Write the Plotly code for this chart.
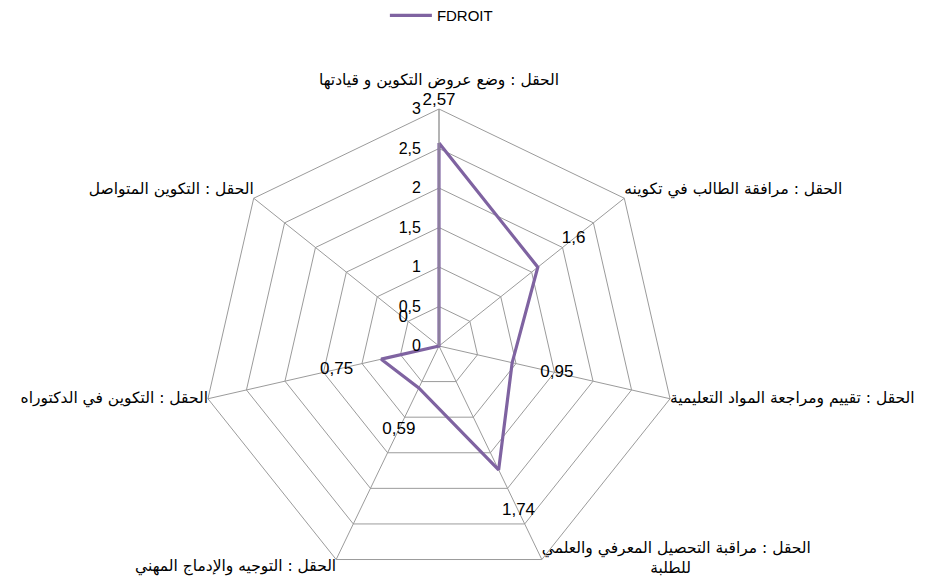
import plotly.graph_objects as go

categories = [
    "الحقل : وضع عروض التكوين و قيادتها",
    "الحقل : مرافقة الطالب في تكوينه",
    "الحقل : تقييم ومراجعة المواد التعليمية",
    "الحقل : مراقبة التحصيل المعرفي والعلمي<br>" + "\u00a0" * 22 + "للطلبة",
    "الحقل : التوجيه والإدماج المهني",
    "الحقل : التكوين في الدكتوراه",
    "الحقل : التكوين المتواصل",
]
values = [2.57, 1.6, 0.95, 1.74, 0.59, 0.75, 0]
series_name = "FDROIT"
radial_ticks = [0, 0.5, 1, 1.5, 2, 2.5, 3]
radial_max = 3

W, H = 928, 587
cx, cy, R = 431, 338, 237
label_offset = 0.58

purple = "#7F63A1"
grid = "#9B9B9B"

cat_positions = ["top center", "top right", "middle right", "middle right",
                 "bottom left", "middle left", "top left"]
cat_text = [categories[0] + "<br> "] + categories[1:]

# data-label placement: pushed outward along each spoke, clamped to the frame
lab_r = [min(v + label_offset, radial_max) for v in values]
lab_pos = ["middle center" if v + label_offset <= radial_max else "top center" for v in values]

fig = go.Figure()
fig.add_trace(go.Scatterpolar(
    r=values + [values[0]],
    theta=categories + [categories[0]],
    mode="lines",
    line=dict(color=purple, width=3.2),
    name=series_name,
))
fig.add_trace(go.Scatterpolar(
    r=lab_r,
    theta=categories,
    mode="text",
    text=[f"{v:g}".replace(".", ",") for v in values],
    textposition=lab_pos,
    textfont=dict(family="Liberation Sans, Arial", size=17, color="#000"),
    showlegend=False,
    cliponaxis=False,
    hoverinfo="skip",
))
fig.add_trace(go.Scatterpolar(
    r=[radial_max] * len(categories),
    theta=categories,
    mode="text",
    text=cat_text,
    textposition=cat_positions,
    textfont=dict(family="DejaVu Sans", size=15.5, color="#000"),
    showlegend=False,
    cliponaxis=False,
    hoverinfo="skip",
))

fig.update_layout(
    width=W, height=H,
    margin=dict(l=0, r=0, t=0, b=0, autoexpand=False),
    paper_bgcolor="white",
    separators=", ",
    showlegend=True,
    legend=dict(orientation="h", x=0.467, xanchor="center", y=1.015, yanchor="top",
                itemwidth=42,
                font=dict(family="Liberation Sans, Arial", size=15, color="#000")),
    polar=dict(
        domain=dict(x=[(cx - R) / W, (cx + R) / W], y=[1 - (cy + R) / H, 1 - (cy - R) / H]),
        bgcolor="white",
        gridshape="linear",
        radialaxis=dict(
            range=[0, radial_max], tickvals=radial_ticks, angle=90, side="counterclockwise",
            showline=True, linecolor=grid, gridcolor=grid, gridwidth=1,
            ticks="outside", ticklen=12, tickcolor="rgba(0,0,0,0)", tickangle=90,
            tickfont=dict(family="Liberation Sans, Arial", size=16, color="#000"),
        ),
        angularaxis=dict(
            direction="clockwise", rotation=90,
            showline=True, linecolor=grid, gridcolor=grid, ticks="",
            showticklabels=False,
        ),
    ),
)
fig.write_html("out.html")
